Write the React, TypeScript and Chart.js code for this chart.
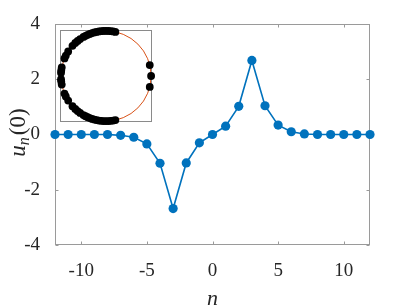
import React, { useEffect, useRef } from "react";
import { Chart, registerables } from "chart.js";

Chart.register(...registerables);

// ---- data ----
const nValues = [-12, -11, -10, -9, -8, -7, -6, -5, -4, -3, -2, -1, 0, 1, 2, 3, 4, 5, 6, 7, 8, 9, 10, 11, 12];
const uValues = [0, 0, 0, 0, 0, -0.03, -0.1, -0.34, -1.04, -2.68, -1.03, -0.3, 0, 0.3, 1.02, 2.68, 1.04, 0.34, 0.1, 0.02, 0, 0, 0, 0, 0];
const xTicks = [-10, -5, 0, 5, 10];
const yTicks = [-4, -2, 0, 2, 4];
const xTickLabels = ["-10", "-5", "0", "5", "10"];
const yTickLabels = ["-4", "-2", "0", "2", "4"];
// inset: phase angles (degrees) of the black dots on the unit circle
const insetAnglesRight = [-14, 0, 14];
const insetAnglesUpper = [78, 81, 84, 87, 90, 93, 96, 99, 102, 105, 108, 111, 114, 117, 120, 125, 129, 133, 138, 147, 153, 157, 169, 173, 176];
const insetAnglesLower = [282, 279, 276, 273, 270, 267, 264, 261, 258, 255, 252, 249, 246, 243, 240, 235, 231, 227, 222, 213, 207, 203, 191, 187, 184];

const AXIS_COLOR = "#9a9a9a";
const TEXT_COLOR = "#262626";
const BLUE = "#0072BD";
const ORANGE = "#D95319";
const SERIF = "'Liberation Serif', 'DejaVu Serif', serif";

const mainPlugin = {
  id: "mainFrame",
  beforeDatasetsDraw(chart: any) {
    const { ctx, chartArea: a, scales } = chart;
    const TL = 3;
    ctx.save();
    ctx.strokeStyle = AXIS_COLOR;
    ctx.lineWidth = 1;
    const L = a.left + 0.5, R = a.right - 0.5, T = a.top + 0.5, B = a.bottom - 0.5;
    ctx.strokeRect(L, T, R - L, B - T);
    ctx.beginPath();
    for (const v of xTicks) {
      const px = Math.round(scales.x.getPixelForValue(v)) + 0.5;
      ctx.moveTo(px, B); ctx.lineTo(px, B - TL);
      ctx.moveTo(px, T); ctx.lineTo(px, T + TL);
    }
    for (const v of yTicks) {
      const py = Math.round(scales.y.getPixelForValue(v)) + 0.5;
      ctx.moveTo(L, py); ctx.lineTo(L + TL, py);
      ctx.moveTo(R, py); ctx.lineTo(R - TL, py);
    }
    ctx.stroke();
    ctx.restore();
  },
  afterDraw(chart: any) {
    const { ctx, chartArea: a } = chart;
    ctx.save();
    ctx.fillStyle = TEXT_COLOR;
    // x label
    ctx.font = `italic 22px ${SERIF}`;
    ctx.textAlign = "center";
    ctx.textBaseline = "alphabetic";
    ctx.fillText("n", (a.left + a.right) / 2, 305);
    // y label: u_n(0), rotated
    const cy = (a.top + a.bottom) / 2 - 2;
    ctx.translate(25, cy);
    ctx.rotate(-Math.PI / 2);
    const fMain = `italic 23px ${SERIF}`;
    const fSub = `italic 16px ${SERIF}`;
    const fUp = `23px ${SERIF}`;
    ctx.font = fMain; const wU = ctx.measureText("u").width;
    ctx.font = fSub; const wN = ctx.measureText("n").width;
    ctx.font = fUp; const wP = ctx.measureText("(0)").width;
    const total = wU + wN + 2 + wP;
    let x = -total / 2;
    ctx.textAlign = "left";
    ctx.font = fMain; ctx.fillText("u", x, 0); x += wU;
    ctx.font = fSub; ctx.fillText("n", x, 4); x += wN + 2;
    ctx.font = fUp; ctx.fillText("(0)", x, 0);
    ctx.restore();
  },
};

const insetPlugin = {
  id: "insetFrame",
  beforeDatasetsDraw(chart: any) {
    const { ctx, chartArea: a, scales } = chart;
    ctx.save();
    ctx.fillStyle = "#ffffff";
    ctx.fillRect(a.left, a.top, a.right - a.left, a.bottom - a.top);
    const cx = scales.x.getPixelForValue(0);
    const cy = scales.y.getPixelForValue(0);
    const r = scales.x.getPixelForValue(1) - cx;
    ctx.strokeStyle = ORANGE;
    ctx.lineWidth = 1;
    ctx.beginPath();
    ctx.arc(cx, cy, r, 0, Math.PI * 2);
    ctx.stroke();
    ctx.strokeStyle = "#8a8a8a";
    ctx.strokeRect(a.left + 0.5, a.top + 0.5, a.right - a.left - 1, a.bottom - a.top - 1);
    ctx.restore();
  },
};

export default function App() {
  const mainRef = useRef<HTMLCanvasElement>(null);
  const insetRef = useRef<HTMLCanvasElement>(null);

  useEffect(() => {
    if (!mainRef.current || !insetRef.current) return;
    const main = new Chart(mainRef.current, {
      type: "line",
      data: {
        datasets: [
          {
            data: nValues.map((n, i) => ({ x: n, y: uValues[i] })),
            borderColor: BLUE,
            backgroundColor: BLUE,
            borderWidth: 1.6,
            pointRadius: 4.6,
            pointBackgroundColor: BLUE,
            pointBorderWidth: 0,
            tension: 0,
            clip: false as any,
          },
        ],
      },
      options: {
        animation: false,
        responsive: false,
        devicePixelRatio: 1,
        layout: { padding: { left: 0, right: 39, top: 24, bottom: 0 } },
        plugins: { legend: { display: false }, tooltip: { enabled: false } },
        scales: {
          x: {
            type: "linear",
            min: -12,
            max: 12,
            grid: { display: false },
            border: { display: false },
            afterBuildTicks: (s: any) => { s.ticks = xTicks.map((v) => ({ value: v })); },
            afterFit: (s: any) => { s.height = 62; },
            ticks: {
              padding: 7,
              color: TEXT_COLOR,
              font: { family: SERIF, size: 19 },
              callback: (v: any) => xTickLabels[xTicks.indexOf(Number(v))] ?? "",
            },
          },
          y: {
            type: "linear",
            min: -4,
            max: 4,
            grid: { display: false },
            border: { display: false },
            afterBuildTicks: (s: any) => { s.ticks = yTicks.map((v) => ({ value: v })); },
            afterFit: (s: any) => { s.width = 55; },
            ticks: {
              padding: 7,
              color: TEXT_COLOR,
              font: { family: SERIF, size: 19 },
              callback: (v: any) => yTickLabels[yTicks.indexOf(Number(v))] ?? "",
            },
          },
        },
      },
      plugins: [mainPlugin],
    });

    const angles = [...insetAnglesRight, ...insetAnglesUpper, ...insetAnglesLower];
    const inset = new Chart(insetRef.current, {
      type: "scatter",
      data: {
        datasets: [
          {
            data: angles.map((d) => ({ x: Math.cos((d * Math.PI) / 180), y: Math.sin((d * Math.PI) / 180) })),
            pointRadius: 3.9,
            pointBackgroundColor: "#000000",
            pointBorderWidth: 0,
            clip: false as any,
          },
        ],
      },
      options: {
        animation: false,
        responsive: false,
        devicePixelRatio: 1,
        layout: { padding: 10 },
        plugins: { legend: { display: false }, tooltip: { enabled: false } },
        scales: {
          x: { display: false, min: -1.02, max: 1.02 },
          y: { display: false, min: -1.02, max: 1.02 },
        },
      },
      plugins: [insetPlugin],
    });

    return () => {
      main.destroy();
      inset.destroy();
    };
  }, []);

  return (
    <div style={{ position: "fixed", left: 0, top: 0, width: 409, height: 307, background: "#fff" }}>
      <canvas ref={mainRef} width={409} height={307} style={{ position: "absolute", left: 0, top: 0 }} />
      <canvas ref={insetRef} width={112} height={112} style={{ position: "absolute", left: 50, top: 20 }} />
    </div>
  );
}
